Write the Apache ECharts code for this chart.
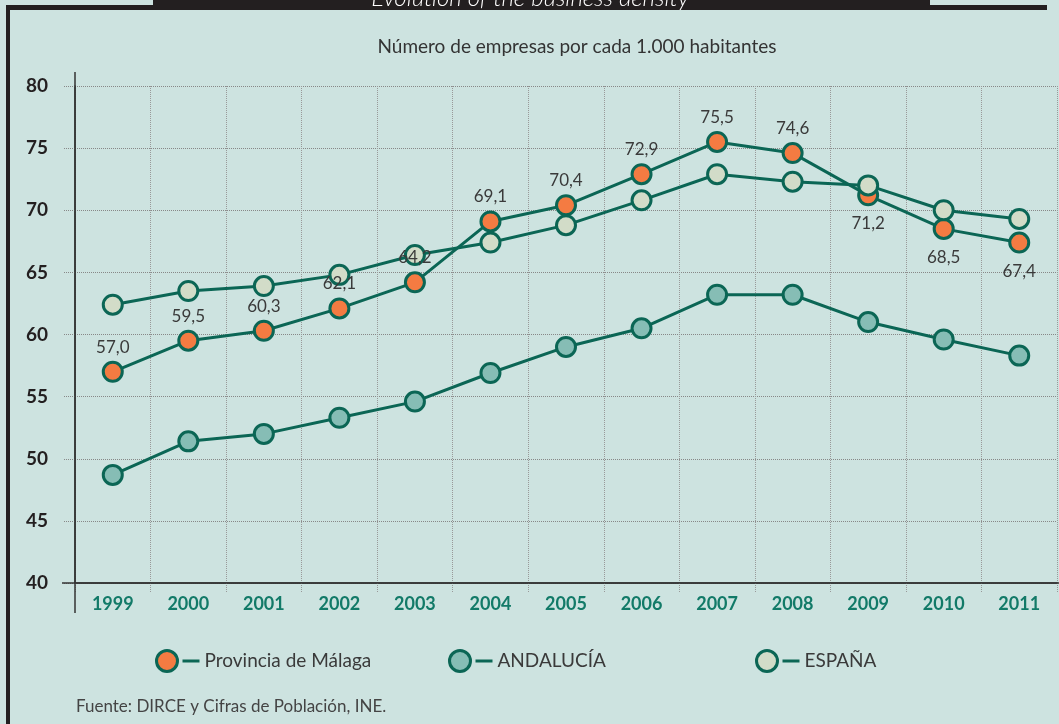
<!DOCTYPE html>
<html>
<head>
<meta charset="utf-8">
<title>Densidad empresarial</title>
<script src="https://cdn.jsdelivr.net/npm/echarts@6/dist/echarts.min.js"></script>
<style>
  html, body { margin: 0; padding: 0; background: #cde3e0; }
  #main { width: 1059px; height: 724px; }
</style>
</head>
<body>
<div id="main"></div>
<script type="text/javascript">
// datos
var years = ['1999', '2000', '2001', '2002', '2003', '2004', '2005', '2006', '2007', '2008', '2009', '2010', '2011'];
var malaga = [57.0, 59.5, 60.3, 62.1, 64.2, 69.1, 70.4, 72.9, 75.5, 74.6, 71.2, 68.5, 67.4];
var andalucia = [48.7, 51.4, 52.0, 53.3, 54.6, 56.9, 59.0, 60.5, 63.2, 63.2, 61.0, 59.6, 58.3];
var espana = [62.4, 63.5, 63.9, 64.8, 66.4, 67.4, 68.8, 70.8, 72.9, 72.3, 72.0, 70.0, 69.3];
var seriesNames = ['Provincia de Málaga', 'ANDALUCÍA', 'ESPAÑA'];
var yTicks = [40, 45, 50, 55, 60, 65, 70, 75, 80];

var lineColor = '#0b6655';
var fills = ['#f47b42', '#86bdb5', '#d2dcc8'];
var font = 'Lato, "Open Sans", sans-serif';

// etiquetas de Málaga: las tres últimas van debajo del punto
var labelBelow = ['2009', '2010', '2011'];
var malagaData = malaga.map(function(v, i) {
    var below = labelBelow.indexOf(years[i]) >= 0;
    return { value: v, label: { position: below ? 'bottom' : 'top', distance: below ? 9 : 5 } };
});

function mkSeries(name, data, fill, withLabel) {
    return {
        name: name,
        type: 'line',
        data: data,
        symbol: 'circle',
        symbolSize: 19,
        lineStyle: { color: lineColor, width: 3 },
        itemStyle: { color: fill, borderColor: lineColor, borderWidth: 3 },
        label: withLabel ? {
            show: true,
            fontFamily: font,
            fontSize: 17,
            color: '#3a3a3a',
            formatter: function(p) { return p.value.toFixed(1).replace('.', ','); }
        } : { show: false },
        emphasis: { disabled: true },
        z: 3
    };
}

function mkLegend(idx, left) {
    return {
        left: left,
        top: 644,
        itemWidth: 21,
        itemHeight: 21,
        selectedMode: false,
        data: [{
            name: seriesNames[idx],
            icon: 'circle',
            itemStyle: { color: fills[idx], borderColor: lineColor, borderWidth: 3 }
        }],
        formatter: function(n) { return '{l|}{t|' + n + '}'; },
        textStyle: {
            rich: {
                l: { width: 17, height: 3, backgroundColor: lineColor },
                t: { padding: [0, 0, 0, 5], fontFamily: font, fontSize: 19, color: '#3a3a3a' }
            }
        }
    };
}

var myChart = echarts.init(document.getElementById('main'));

var option = {
    backgroundColor: '#cde3e0',
    animation: false,
    title: {
        text: 'Número de empresas por cada 1.000 habitantes',
        left: 572,
        textAlign: 'center',
        top: 32,
        textStyle: { fontFamily: font, fontSize: 19, fontWeight: 'normal', color: '#333' }
    },
    legend: [mkLegend(0, 150), mkLegend(1, 443), mkLegend(2, 750)],
    grid: { left: 75, right: 2, top: 86, bottom: 141 },
    xAxis: {
        type: 'category',
        data: years,
        boundaryGap: true,
        axisLine: { show: true, lineStyle: { color: '#333', width: 1.5 } },
        axisTick: { show: true, length: 10, lineStyle: { color: '#999', type: 'dotted' } },
        splitLine: { show: true, lineStyle: { color: '#999', type: 'dotted', width: 1 } },
        axisLabel: { margin: 12, fontFamily: font, fontSize: 18, fontWeight: 'bold', color: '#127a68' }
    },
    yAxis: {
        type: 'value',
        min: yTicks[0],
        max: yTicks[yTicks.length - 1],
        interval: 5,
        axisLine: { show: true, lineStyle: { color: '#333', width: 1.5 } },
        axisTick: { show: true, length: 12, lineStyle: { color: '#888', type: 'dotted' } },
        splitLine: { show: true, lineStyle: { color: '#888', type: 'dotted', width: 1 } },
        axisLabel: { margin: 27, fontFamily: font, fontSize: 19, fontWeight: 'bold', color: '#231f20' }
    },
    graphic: [
        // cabecera negra recortada
        { type: 'rect', shape: { x: 153, y: 0, width: 777, height: 10 }, style: { fill: '#231f20' }, z: 10 },
        { type: 'rect', shape: { x: 6, y: 5, width: 1041, height: 5 }, style: { fill: '#231f20' }, z: 10 },
        { type: 'rect', shape: { x: 6, y: 5, width: 4, height: 719 }, style: { fill: '#231f20' }, z: 10 },
        {
            type: 'text', x: 530, y: 10, z: 11,
            style: { text: 'Evolution of the business density', fill: '#fff', fontFamily: font, fontSize: 24, fontStyle: 'italic', fontWeight: 300, align: 'center', verticalAlign: 'bottom' }
        },
        // prolongación de los ejes
        { type: 'line', shape: { x1: 75, y1: 72, x2: 75, y2: 613 }, style: { stroke: '#333', lineWidth: 1.5 }, z: 5 },
        { type: 'line', shape: { x1: 62, y1: 583, x2: 1059, y2: 583 }, style: { stroke: '#333', lineWidth: 1.5 }, z: 5 },
        {
            type: 'text', left: 76, top: 698,
            style: { text: 'Fuente: DIRCE y Cifras de Población, INE.', fill: '#444', fontFamily: font, fontSize: 17 }
        }
    ],
    series: [
        mkSeries(seriesNames[0], malagaData, fills[0], true),
        mkSeries(seriesNames[1], andalucia, fills[1], false),
        mkSeries(seriesNames[2], espana, fills[2], false)
    ]
};

myChart.setOption(option);
</script>
</body>
</html>
